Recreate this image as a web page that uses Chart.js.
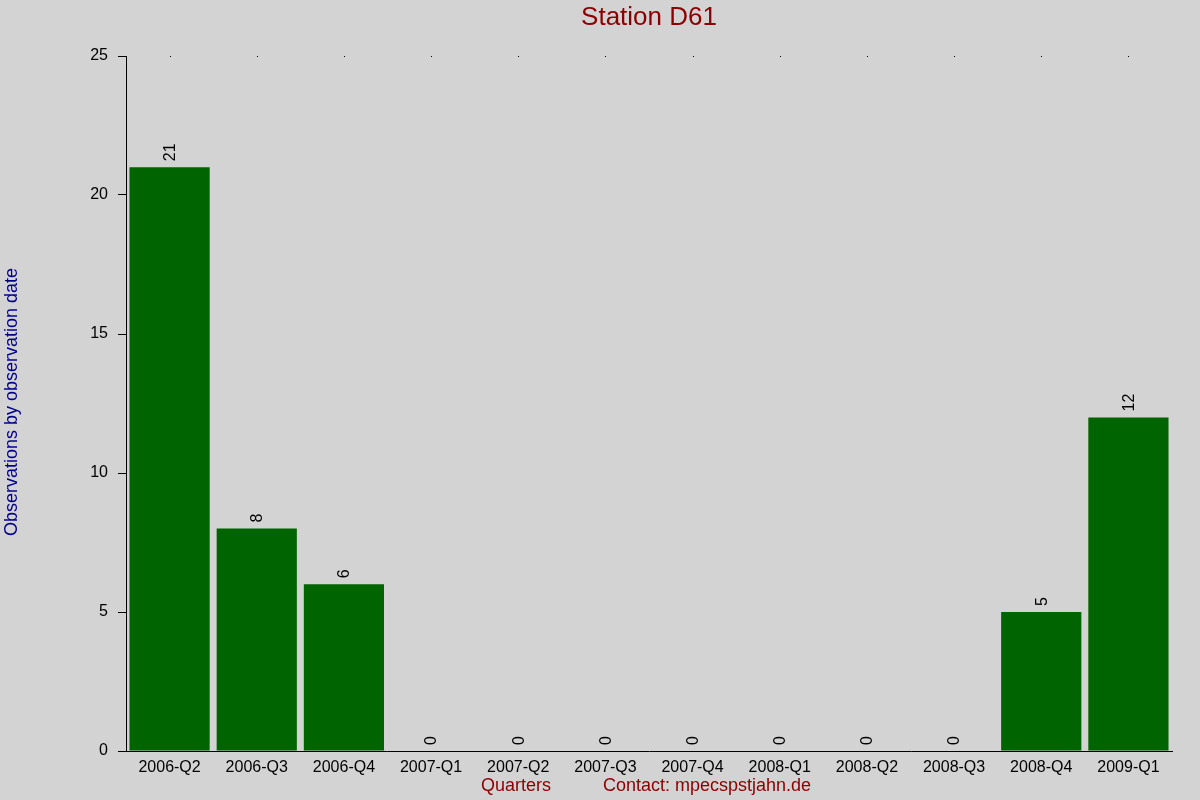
<!DOCTYPE html>
<html>
<head>
<meta charset="utf-8">
<script src="https://cdn.jsdelivr.net/npm/chart.js@4/dist/chart.umd.min.js"></script>
<style>
html,body{margin:0;padding:0;background:#d3d3d3;}
canvas{display:block;}
</style>
</head>
<body>
<canvas id="c" width="1200" height="800"></canvas>
<script>
const categories = ["2006-Q2","2006-Q3","2006-Q4","2007-Q1","2007-Q2","2007-Q3","2007-Q4","2008-Q1","2008-Q2","2008-Q3","2008-Q4","2009-Q1"];
const observations = [21, 8, 6, 0, 0, 0, 0, 0, 0, 0, 5, 12];
const yTicks = [0, 5, 10, 15, 20, 25];
const chartTitle = "Station D61";
const yTitle = "Observations by observation date";
const xTitle = "Quarters";
const contactText = "Contact: mpecspstjahn.de";

const FONT = "'Liberation Sans', Arial, sans-serif";
Chart.defaults.font.family = FONT;
Chart.defaults.color = '#000';

const decor = {
  id: 'decor',
  beforeDraw(chart) {
    const ctx = chart.ctx;
    ctx.save();
    ctx.fillStyle = '#d3d3d3';
    ctx.fillRect(0, 0, chart.width, chart.height);
    ctx.restore();
  },
  afterDraw(chart) {
    const ctx = chart.ctx;
    const ca = chart.chartArea;
    const xs = chart.scales.x;
    ctx.save();
    // top dots
    ctx.fillStyle = '#000';
    categories.forEach((c, i) => {
      const x = Math.round(xs.getPixelForValue(i));
      ctx.fillRect(x, ca.top, 1, 1);
    });
    // value labels
    const meta = chart.getDatasetMeta(0);
    ctx.font = '16px ' + FONT;
    ctx.fillStyle = '#000';
    ctx.textAlign = 'left';
    ctx.textBaseline = 'middle';
    meta.data.forEach((bar, i) => {
      ctx.save();
      ctx.translate(bar.x + 1, bar.y - 6);
      ctx.rotate(-Math.PI / 2);
      ctx.fillText(String(observations[i]), 0, 0);
      ctx.restore();
    });
    // title
    ctx.font = '26px ' + FONT;
    ctx.fillStyle = '#8b0000';
    ctx.textAlign = 'center';
    ctx.textBaseline = 'middle';
    ctx.fillText(chartTitle, (ca.left + ca.right) / 2, 18);
    // y title
    ctx.save();
    ctx.font = '18px ' + FONT;
    ctx.fillStyle = '#00008b';
    ctx.translate(12, 402);
    ctx.rotate(-Math.PI / 2);
    ctx.fillText(yTitle, 0, 0);
    ctx.restore();
    // x title and contact
    ctx.font = '18px ' + FONT;
    ctx.fillStyle = '#8b0000';
    ctx.textAlign = 'center';
    ctx.fillText(xTitle, 516, 786);
    ctx.textAlign = 'left';
    ctx.fillText(contactText, 603, 786);
    ctx.restore();
  }
};

new Chart(document.getElementById('c'), {
  type: 'bar',
  data: {
    labels: categories,
    datasets: [{
      data: observations,
      backgroundColor: '#006400',
      borderWidth: 0,
      inflateAmount: 0,
      barPercentage: 0.92,
      categoryPercentage: 1.0
    }]
  },
  options: {
    responsive: false,
    animation: false,
    devicePixelRatio: 1,
    layout: { padding: { top: 56, right: 28, left: 0, bottom: 0 } },
    plugins: { legend: { display: false }, title: { display: false }, tooltip: { enabled: false } },
    scales: {
      x: {
        offset: true,
        grid: { display: false, drawTicks: false },
        border: { display: true, color: '#000', width: 1 },
        ticks: { color: '#000', font: { size: 16 }, padding: 7, maxRotation: 0, autoSkip: false },
        afterFit(s) { s.height = 49; }
      },
      y: {
        min: 0, max: 25,
        afterBuildTicks(s) { s.ticks = yTicks.map(v => ({ value: v })); },
        grid: { drawOnChartArea: false, drawTicks: true, tickLength: 8, color: '#000' },
        border: { display: true, color: '#000', width: 1 },
        ticks: { color: '#000', font: { size: 16 }, padding: 10 },
        afterFit(s) { s.width = 126; }
      }
    }
  },
  plugins: [decor]
});
</script>
</body>
</html>
